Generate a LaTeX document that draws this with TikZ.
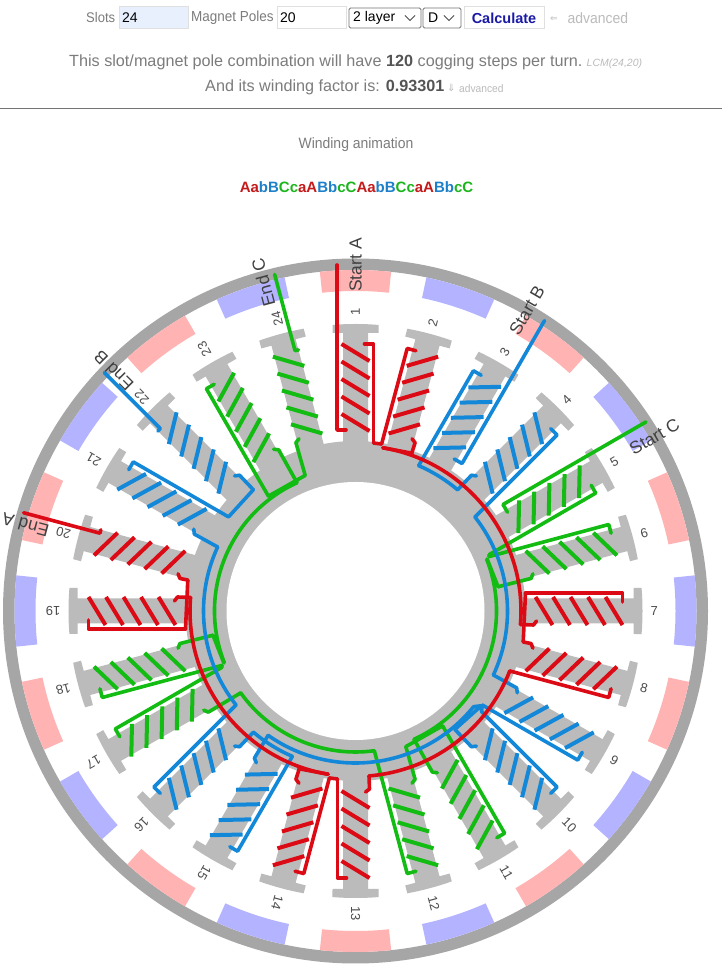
\documentclass[tikz,border=0pt]{standalone}
\usepackage{fontspec}
\setmainfont{Liberation Sans}
\newfontfamily\lightfont[FakeStretch=0.93]{Liberation Sans}
\newfontfamily\symfont{DejaVu Sans}
\definecolor{cr}{HTML}{DC0A14}
\definecolor{cb}{HTML}{1488D8}
\definecolor{cg}{HTML}{12BC12}
\definecolor{tr}{HTML}{C41A1A}
\definecolor{tb}{HTML}{1E80C8}
\definecolor{tg}{HTML}{1DB51D}
\definecolor{stat}{HTML}{BBBBBB}
\definecolor{ringc}{HTML}{A6A6A6}
\definecolor{magp}{HTML}{FFB3B3}
\definecolor{magb}{HTML}{B3B3FF}
\definecolor{txt}{HTML}{7C7C7C}
\definecolor{txtb}{HTML}{555555}
\definecolor{pale}{HTML}{BBBBBB}
\definecolor{slotbg}{HTML}{E8F0FE}
\definecolor{navy}{HTML}{1A1AA6}
\tikzset{
  wire/.style={line width=3.6pt,line cap=round,line join=round},
  turn/.style={line width=4pt,line cap=butt},
  tnum/.style={font=\fontsize{13}{15}\selectfont,text=black!70,inner sep=0pt},
  tend/.style={font=\fontsize{17.5}{20}\selectfont,text=black!75,inner sep=0pt},
  lab/.style={inner sep=0pt,anchor=west},
  boxl/.style={draw=black!12,line width=1pt},
  sel/.style={draw=black!55,line width=.9pt,rounded corners=1.5pt,fill=white},
}
\newcommand{\coilstrokes}[3]{\begin{scope}[rotate={-(#1)},xscale=#2]
  \foreach \yy in {180,197.5,215,232.5,250}{\draw[turn,#3] (-14,\yy+17)--(14,\yy);}
\end{scope}}
\newcommand{\coillong}[5]{\begin{scope}[rotate={-(#2)},xscale=#3]
  \draw[wire,#4] (9,267)--(18,267)--(18,#5) coordinate (#1);
\end{scope}}
\newcommand{\coilstub}[5]{\begin{scope}[rotate={-(#2)},xscale=#3]
  \draw[wire,#4] (-10,181)--(-14,178)--(-13.5,#5) coordinate (#1);
\end{scope}}
\newcommand{\coilstart}[3]{\begin{scope}[rotate={-(#1)},xscale=#2]
  \draw[wire,#3] (-9.5,181)--(-18.5,181)--(-18.5,346);
\end{scope}}
\newcommand{\coilend}[3]{\begin{scope}[rotate={-(#1)},xscale=#2]
  \draw[wire,#3] (12.5,267)--(9,267)--(9,346);
\end{scope}}
\newcommand{\wirearc}[4]{\draw[wire,#1] ({90-(#3)}:#2) arc[start angle={90-(#3)},end angle={90-(#4)},radius=#2];}
\newcommand{\txtsz}[1]{\fontsize{#1}{#1}\selectfont}
\begin{document}
\begin{tikzpicture}[x=1pt,y=1pt]
\useasboundingbox (0,0) rectangle (722,977);
\fill[white] (0,0) rectangle (722,977);
% header widgets
\draw[boxl,fill=slotbg] (119,970) rectangle (188,948);
\draw[boxl,fill=white] (277,970) rectangle (346,948);
\draw[sel] (349,969) rectangle (421,949);
\draw[sel] (423,969) rectangle (461,949);
\draw[boxl,fill=white] (464,970) rectangle (544,948);
\draw[black!70,line width=.8pt] (405,961.5)--(410,956.5)--(415,961.5);
\draw[black!70,line width=.8pt] (444,961.5)--(449,956.5)--(454,961.5);
\node[lab,text=txt,font=\lightfont\txtsz{14}] (slotsl) at (86,959) {Slots};
\node[lab,text=black,font=\txtsz{14}] (slotsv) at (122,959) {24};
\node[lab,text=txt,font=\lightfont\txtsz{14.5}] (polesl) at (191,959) {Magnet Poles};
\node[lab,text=black,font=\txtsz{14}] (polesv) at (280,959) {20};
\node[lab,text=black,font=\txtsz{14}] (layer) at (353,959) {2 layer};
\node[lab,text=black,font=\txtsz{14}] (dsel) at (428,959) {D};
\node[text=navy,font=\bfseries\txtsz{14.5},inner sep=0pt] (calc) at (504,959) {Calculate};
\node[lab,text=pale,font=\symfont\txtsz{9}] (arrl) at (550,958) {⇐};
\node[lab,text=pale,font=\lightfont\txtsz{15}] (adv1) at (567.5,959) {advanced};
\node[lab,text=txt,font=\txtsz{16.2}] (line2) at (69,915) {This slot/magnet pole combination will have \textcolor{txtb}{\bfseries 120} cogging steps per turn.};
\node[lab,text=pale,font=\itshape\txtsz{10.5}] (lcm) at (586.5,913.5) {LCM(24,20)};
\node[lab,text=txt,font=\txtsz{16.2}] (line3) at (205,890) {And its winding factor is: \textcolor{txtb}{\bfseries 0.93301}};
\node[lab,text=pale,font=\symfont\txtsz{10}] (arrd) at (447,889) {⇓};
\node[lab,text=pale,font=\lightfont\txtsz{11}] (adv2) at (459,888.5) {advanced};
\draw[black!55,line width=1.2pt] (0,868.7)--(722,868.7);
\node[text=txt,font=\lightfont\txtsz{15},inner sep=0pt] (anim) at (356,832) {Winding animation};
\node[font=\bfseries\txtsz{15},inner sep=0pt] (seq) at (356.5,790) {\textcolor{tr}{Aa}\textcolor{tb}{bB}\textcolor{tg}{Cc}\textcolor{tr}{aA}\textcolor{tb}{Bb}\textcolor{tg}{cC}\textcolor{tr}{Aa}\textcolor{tb}{bB}\textcolor{tg}{Cc}\textcolor{tr}{aA}\textcolor{tb}{Bb}\textcolor{tg}{cC}};
\begin{scope}[shift={(355.5,366)}]
% case and magnets
\fill[ringc,even odd rule] (0,0) circle (352.5) (0,0) circle (341);
\foreach \k in {0,...,19}{
  \pgfmathtruncatemacro{\pp}{mod(\k,2)}
  \ifnum\pp=0 \def\mc{magp}\else \def\mc{magb}\fi
  \fill[\mc] ({90-18*\k+6}:320) arc[start angle={90-18*\k+6},end angle={90-18*\k-6},radius=320]
     -- ({90-18*\k-6}:341) arc[start angle={90-18*\k-6},end angle={90-18*\k+6},radius=341] -- cycle;
}
% stator
\foreach \i in {1,...,24}{
  \begin{scope}[rotate={-15*(\i-1)}]
  \fill[stat] (-12.5,165)--(-12.5,278)--(-23,278)--(-23,286.08)
     arc[start angle=94.6,end angle=85.4,radius=287]--(23,278)--(12.5,278)--(12.5,165)--cycle;
  \end{scope}
}
\fill[stat] (0,0) circle (170);
\fill[white] (0,0) circle (129);
% green phase
\foreach \O in {0,180}{
  \coilstrokes{\O+60}{1}{cg}
  \coillong{gA}{\O+60}{1}{cg}{144}
  \ifnum\O=0 \coilstart{\O+60}{1}{cg}\else \coilstub{gS}{\O+60}{1}{cg}{140.4}\fi
  \coilstrokes{\O+75}{-1}{cg}
  \coillong{gB}{\O+75}{-1}{cg}{143}
  \draw[wire,cg] (gA)--(gB);
  \coilstub{gC}{\O+75}{-1}{cg}{144}
  \draw[wire,cg] (gC)--({90-(\O+68.5)}:141.5);
  \wirearc{cg}{141}{\O+68.5}{\O+155.5}
  \coilstrokes{\O+150}{-1}{cg}
  \coillong{gD}{\O+150}{-1}{cg}{143}
  \coilstub{gE}{\O+150}{-1}{cg}{140.4}
  \coilstrokes{\O+165}{1}{cg}
  \coilstub{gF}{\O+165}{1}{cg}{144}
  \draw[wire,cg] (gD)--(gF);
  \ifnum\O=0
    \coillong{gG}{\O+165}{1}{cg}{139.8}
    \wirearc{cg}{141}{172.33}{234.5}
  \else
    \coilend{\O+165}{1}{cg}
  \fi
}
% blue phase
\foreach \O in {0,180}{
  \coilstrokes{\O+30}{-1}{cb}
  \coillong{bA}{\O+30}{-1}{cb}{157.5}
  \ifnum\O=0 \coilstart{\O+30}{-1}{cb}\else \coilstub{bS}{\O+30}{-1}{cb}{151.4}\fi
  \wirearc{cb}{158.5}{\O+23.48}{\O+40.12}
  \coilstrokes{\O+45}{1}{cb}
  \coilstub{bB}{\O+45}{1}{cb}{158}
  \coillong{bC}{\O+45}{1}{cb}{150.9}
  \wirearc{cb}{152}{\O+51.8}{\O+114.9}
  \coilstrokes{\O+120}{1}{cb}
  \coilstub{bD}{\O+120}{1}{cb}{151.4}
  \coillong{bE}{\O+120}{1}{cb}{157}
  \coilstrokes{\O+135}{-1}{cb}
  \ifnum\O=0
    \coillong{bF}{\O+135}{-1}{cb}{160}
    \draw[wire,cb] (bE)--(bF);
    \coilstub{bG}{\O+135}{-1}{cb}{154}
    \draw[wire,cb] (bG)--({90-127}:157.5)--({90-129}:152);
    \wirearc{cb}{152}{129}{215.09}
  \else
    \coilstub{bG}{\O+135}{-1}{cb}{158}
    \draw[wire,cb] (bE)--(bG);
    \coilend{\O+135}{-1}{cb}
  \fi
}
% red phase
\foreach \O in {0,180}{
  \coilstrokes{\O}{1}{cr}
  \coillong{rA}{\O}{1}{cr}{168}
  \ifnum\O=0 \coilstart{\O}{1}{cr}\else \coilstub{rS}{\O}{1}{cr}{165}\fi
  \coilstrokes{\O+15}{-1}{cr}
  \coillong{rB}{\O+15}{-1}{cr}{168}
  \draw[wire,cr] (rA)--(rB);
  \coilstub{rC}{\O+15}{-1}{cr}{167}
  \draw[wire,cr] (rC)--({90-(\O+9.5)}:165.5);
  \wirearc{cr}{165.5}{\O+9.5}{\O+94.68}
  \coilstrokes{\O+90}{-1}{cr}
  \coillong{rD}{\O+90}{-1}{cr}{170}
  \coilstub{rE}{\O+90}{-1}{cr}{165}
  \coilstrokes{\O+105}{1}{cr}
  \coilstub{rF}{\O+105}{1}{cr}{170}
  \draw[wire,cr] (rD)--(rF);
  \ifnum\O=0
    \coillong{rG}{\O+105}{1}{cr}{164.5}
    \wirearc{cr}{165.5}{111.24}{175.32}
  \else
    \coilend{\O+105}{1}{cr}
  \fi
}
% labels
\foreach \i in {1,...,24}{
  \node[tnum,anchor=west,rotate={90-15*(\i-1)}] (n\i) at ({90-15*(\i-1)}:295) {\i};
}
\node[tend,rotate=90] (sa) at (90:346) {Start A};
\node[tend,rotate=60] (sb) at (60.3:346) {Start B};
\node[tend,rotate=30] (sc) at (30.2:346) {Start C};
\node[tend,rotate=-195] (ea) at (165.4:341) {End A};
\node[tend,rotate=-225] (eb) at (135.2:341) {End B};
\node[tend,rotate=105] (ec) at (105.7:341) {End C};
\end{scope}
\end{tikzpicture}
\end{document}
